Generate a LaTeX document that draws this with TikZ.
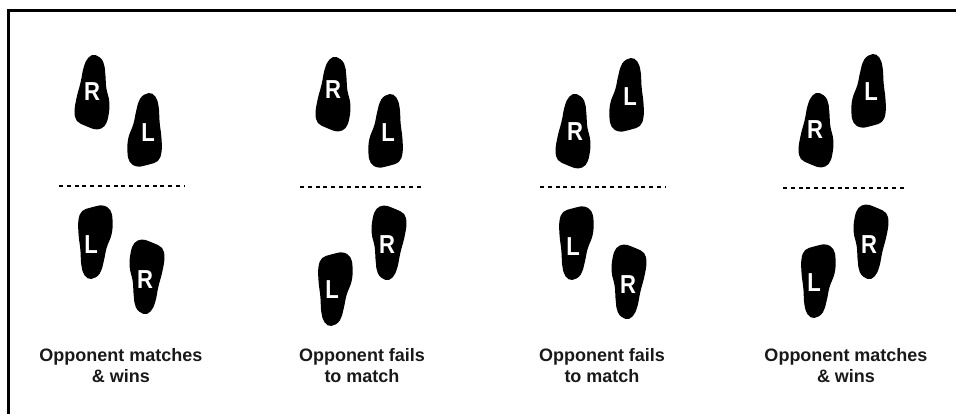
\documentclass[tikz,border=0pt]{standalone}
\usepackage{fontspec}
\setmainfont{Liberation Sans}
\newcommand{\ftlet}[1]{\scalebox{0.85}[1]{#1}}
\begin{document}
\begin{tikzpicture}[x=1pt,y=-1pt]
\tikzset{
  footshape/.pic={\fill[black] plot[smooth cycle,tension=0.7] coordinates{
     (-7,-37) (-14,-33) (-17,-23) (-17,-9) (-13,5) (-11,19) (-8,31) (0,37)
     (7,34) (11,24) (13,9) (16,-7) (17,-21) (14,-30) (6,-34) (0,-36)};},
  letter/.style={text=white,font=\bfseries\fontsize{26}{26}\selectfont,inner sep=0pt},
  sepline/.style={line width=2.4pt,dash pattern=on 4pt off 3.8pt},
  caption/.style={font=\bfseries\fontsize{18}{21}\selectfont,align=center,text=black!90},
  frame/.style={line width=3pt}
}
\useasboundingbox (0,0) rectangle (956,414);
\draw[frame] (8,414) -- (8,11) -- (956,11);

% ---------- group 1 ----------
\pic[xscale=-1,yscale=-1,rotate=-4] at (93,92) {footshape};
\pic[yscale=-1,rotate=4] at (146,130) {footshape};
\pic[xscale=-1,rotate=4] at (94,242) {footshape};
\pic[rotate=-4] at (146,277) {footshape};
\node[letter] (g1tr) at (92,92) {\ftlet{R}};
\node[letter] (g1tl) at (148,133) {\ftlet{L}};
\node[letter] (g1bl) at (91,245) {\ftlet{L}};
\node[letter] (g1br) at (145,280) {\ftlet{R}};
\draw[sepline] (59,186) -- (185,186);
\node[caption] (c1) at (121,366) {Opponent matches\\\& wins};

% ---------- group 2 ----------
\pic[xscale=-1,yscale=-1,rotate=-4] at (334,94) {footshape};
\pic[yscale=-1,rotate=4] at (387,131) {footshape};
\pic[rotate=-4] at (388,243) {footshape};
\pic[xscale=-1,rotate=4] at (334,289) {footshape};
\node[letter] (g2tr) at (333,90) {\ftlet{R}};
\node[letter] (g2tl) at (388,133) {\ftlet{L}};
\node[letter] (g2br) at (387,245) {\ftlet{R}};
\node[letter] (g2bl) at (332,290) {\ftlet{L}};
\draw[sepline] (300,187) -- (424,187);
\node[caption] (c2) at (362,366) {Opponent fails\\to match};

% ---------- group 3 ----------
\pic[yscale=-1,rotate=4] at (628,95) {footshape};
\pic[xscale=-1,yscale=-1,rotate=-4] at (574,131) {footshape};
\pic[xscale=-1,rotate=4] at (575,243) {footshape};
\pic[rotate=-4] at (628,282) {footshape};
\node[letter] (g3tl) at (630,97) {\ftlet{L}};
\node[letter] (g3tr) at (575,132) {\ftlet{R}};
\node[letter] (g3bl) at (573,247) {\ftlet{L}};
\node[letter] (g3br) at (628,285) {\ftlet{R}};
\draw[sepline] (540,187) -- (666,187);
\node[caption] (c3) at (602,366) {Opponent fails\\to match};

% ---------- group 4 ----------
\pic[yscale=-1,rotate=4] at (870,91) {footshape};
\pic[xscale=-1,yscale=-1,rotate=-4] at (817,130) {footshape};
\pic[rotate=-4] at (870,242) {footshape};
\pic[xscale=-1,rotate=4] at (817,281) {footshape};
\node[letter] (g4tl) at (871,92) {\ftlet{L}};
\node[letter] (g4tr) at (815,130) {\ftlet{R}};
\node[letter] (g4br) at (869,245) {\ftlet{R}};
\node[letter] (g4bl) at (814,283) {\ftlet{L}};
\draw[sepline] (783,188) -- (906,188);
\node[caption] (c4) at (846,366) {Opponent matches\\\& wins};
\end{tikzpicture}
\end{document}
